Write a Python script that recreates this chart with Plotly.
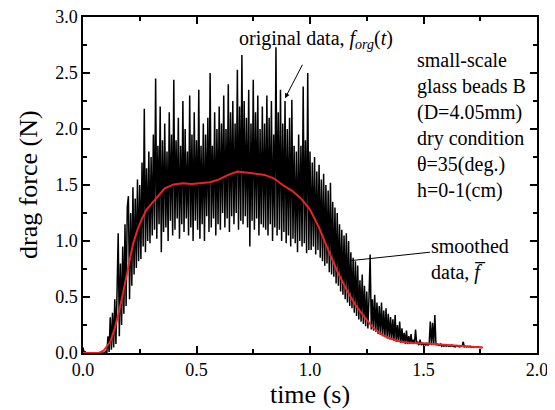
import plotly.graph_objects as go

# ---------------- data ----------------
dt = 0.005  # sampling interval of original signal (s)

f_org = [
    # 0.000 - 0.095
    0.05, 0.0, 0.01, 0.0, 0.0, 0.0, 0.0, 0.0, 0.0, 0.0, 0.0, 0.0, 0.0, 0.0, 0.0, 0.0, 0.0, 0.0, 0.0, 0.0,
    # 0.100 - 0.195
    0.02, 0.00, 0.15, 0.01, 0.32, 0.03, 0.36, 0.05, 0.48, 0.08, 0.55, 1.07, 0.15, 0.80, 0.25, 0.95, 0.35, 1.15, 0.42, 1.30,
    # 0.200 - 0.295
    1.40, 0.48, 1.25, 0.60, 1.48, 0.70, 1.38, 0.76, 1.55, 0.82, 1.50, 0.84, 1.70, 0.95, 2.18, 0.90, 1.65, 1.00, 1.80, 0.98,
    # 0.300 - 0.395
    1.75, 1.05, 1.95, 1.10, 2.45, 1.02, 1.85, 1.15, 2.20, 0.90, 1.90, 1.08, 2.05, 1.12, 1.80, 1.00, 2.15, 1.18, 1.95, 1.05,
    # 0.400 - 0.495
    2.44, 1.10, 1.90, 1.20, 2.10, 1.02, 1.85, 1.15, 2.25, 1.08, 2.00, 1.20, 1.80, 1.05, 2.30, 1.12, 1.95, 1.00, 2.15, 1.18,
    # 0.500 - 0.595
    1.90, 1.10, 2.35, 1.02, 1.85, 1.15, 2.05, 1.00, 1.95, 1.22, 2.10, 1.08, 2.50, 1.12, 1.85, 1.20, 2.15, 1.05, 2.00, 1.15,
    # 0.600 - 0.695
    2.20, 1.10, 2.05, 1.25, 2.30, 1.12, 2.00, 1.20, 2.40, 1.08, 2.15, 1.22, 2.25, 1.15, 2.05, 1.25, 2.53, 1.10, 2.20, 1.18,
    # 0.700 - 0.795
    2.66, 1.15, 2.25, 1.22, 2.10, 1.12, 2.35, 0.95, 2.05, 1.18, 2.44, 1.10, 2.15, 1.20, 2.30, 1.05, 2.00, 1.15, 2.20, 1.12,
    # 0.800 - 0.895
    2.05, 1.10, 2.30, 1.05, 2.10, 1.15, 2.25, 1.00, 1.95, 1.12, 2.73, 1.05, 2.15, 1.10, 2.35, 1.00, 2.05, 1.08, 2.25, 0.98,
    # 0.900 - 0.995
    2.00, 1.05, 2.10, 0.95, 2.26, 1.02, 1.85, 0.98, 1.80, 0.90, 1.95, 1.00, 1.85, 0.95, 2.38, 0.98, 1.90, 0.89, 2.50, 0.92,
    # 1.000 - 1.095
    1.80, 0.92, 1.70, 0.95, 1.75, 0.88, 1.62, 0.92, 1.68, 0.85, 1.55, 0.82, 1.60, 0.78, 1.50, 0.80, 1.45, 0.72, 1.52, 0.70,
    # 1.100 - 1.195
    1.35, 0.68, 1.30, 0.62, 1.25, 0.60, 1.15, 0.55, 1.10, 0.52, 1.05, 0.48, 1.07, 0.45, 1.00, 0.42, 0.90, 0.40, 0.85, 0.36,
    # 1.200 - 1.295
    0.82, 0.33, 0.78, 0.30, 0.65, 0.28, 0.70, 0.26, 0.60, 0.24, 0.55, 0.22, 0.50, 0.88, 0.21, 0.48, 0.20, 0.52, 0.19, 0.45,
    # 1.300 - 1.395
    0.17, 0.42, 0.16, 0.45, 0.15, 0.38, 0.14, 0.40, 0.13, 0.35, 0.12, 0.32, 0.12, 0.30, 0.11, 0.34, 0.10, 0.25, 0.10, 0.28,
    # 1.400 - 1.495
    0.09, 0.22, 0.09, 0.18, 0.08, 0.20, 0.08, 0.15, 0.08, 0.17, 0.08, 0.12, 0.08, 0.21, 0.08, 0.10, 0.07, 0.12, 0.07, 0.09,
    # 1.500 - 1.595
    0.07, 0.08, 0.07, 0.09, 0.07, 0.08, 0.28, 0.07, 0.27, 0.07, 0.34, 0.07, 0.08, 0.07, 0.07, 0.08, 0.06, 0.07, 0.06, 0.07,
    # 1.600 - 1.695
    0.06, 0.07, 0.06, 0.065, 0.06, 0.07, 0.06, 0.06, 0.055, 0.065, 0.06, 0.06, 0.055, 0.06, 0.06, 0.10, 0.055, 0.06, 0.055, 0.06,
    # 1.700 - 1.760
    0.055, 0.06, 0.05, 0.055, 0.05, 0.055, 0.05, 0.05, 0.055, 0.05, 0.05, 0.05, 0.05,
]
t_org = [round(i * dt, 3) for i in range(len(f_org))]

t_smooth = [0.00, 0.04, 0.07, 0.09, 0.10, 0.12, 0.14, 0.16, 0.18, 0.20, 0.22, 0.24, 0.26, 0.28,
            0.30, 0.33, 0.36, 0.40, 0.44, 0.48, 0.52, 0.56, 0.60, 0.64, 0.68, 0.72, 0.76, 0.80,
            0.84, 0.88, 0.92, 0.96, 1.00, 1.04, 1.08, 1.12, 1.16, 1.20, 1.24, 1.28, 1.32, 1.36,
            1.40, 1.45, 1.50, 1.55, 1.60, 1.65, 1.70, 1.76]
f_smooth = [0.00, 0.00, 0.00, 0.02, 0.045, 0.10, 0.22, 0.38, 0.57, 0.78, 0.97, 1.10, 1.20, 1.28,
            1.33, 1.40, 1.47, 1.505, 1.515, 1.51, 1.515, 1.525, 1.55, 1.59, 1.62, 1.61, 1.60, 1.59,
            1.56, 1.50, 1.45, 1.38, 1.28, 1.12, 0.92, 0.73, 0.57, 0.43, 0.32, 0.22, 0.16, 0.125,
            0.10, 0.09, 0.087, 0.08, 0.07, 0.062, 0.056, 0.05]

x_ticks = [0.0, 0.5, 1.0, 1.5, 2.0]
y_ticks = [0.0, 0.5, 1.0, 1.5, 2.0, 2.5, 3.0]

# ---------------- figure ----------------
FONT = "Liberation Serif, Times New Roman, serif"
fig = go.Figure()
fig.add_trace(go.Scatter(x=t_org, y=f_org, mode="lines",
                         line=dict(color="black", width=1.5), hoverinfo="skip"))
fig.add_trace(go.Scatter(x=t_smooth, y=f_smooth, mode="lines",
                         line=dict(color="#ee2222", width=2), hoverinfo="skip"))

axis_common = dict(showline=True, linecolor="black", linewidth=1.5, mirror="ticks",
                   ticks="inside", ticklen=7, tickwidth=1.5, tickcolor="black",
                   showgrid=False, zeroline=False, tickformat=".1f", automargin=False,
                   ticklabeloverflow="allow",
                   tickfont=dict(family=FONT, size=18, color="black"),
                   minor=dict(ticks="inside", ticklen=4, tickwidth=1.5, tickcolor="black",
                              dtick=0.25, showgrid=False))

fig.update_xaxes(range=[0, 2.0], tickvals=x_ticks, ticklabelstandoff=0,
                 title=dict(text="time (s)", font=dict(family=FONT, size=26), standoff=4),
                 **axis_common)
fig.update_yaxes(range=[0, 3.0], tickvals=y_ticks, **axis_common)

# y-axis title placed as a rotated annotation for exact position
fig.add_annotation(x=0, y=0.5, xref="paper", yref="paper", xshift=-55,
                   xanchor="center", yanchor="middle", textangle=-90,
                   text="drag force (N)", showarrow=False,
                   font=dict(family=FONT, size=26, color="black"))

fig.add_annotation(x=0.678, y=2.795, xref="x", yref="y", xanchor="left", yanchor="middle",
                   text="original data, <i>f</i><sub><i>org</i></sub>(<i>t</i>)",
                   showarrow=False, font=dict(family=FONT, size=20, color="black"))
fig.add_annotation(x=0.89, y=2.274, ax=0.97, ay=2.587, xref="x", yref="y", axref="x", ayref="y",
                   text="", showarrow=True, arrowhead=2, arrowsize=1, arrowwidth=1, arrowcolor="black")
fig.add_annotation(x=1.4626, y=2.73, xref="x", yref="y", xanchor="left", yanchor="top", align="left",
                   text="small-scale<br>glass beads B<br>(D=4.05mm)<br>dry condition<br>θ=35(deg.)<br>h=0-1(cm)",
                   showarrow=False, font=dict(family=FONT, size=20, color="black"))
fig.add_annotation(x=1.525, y=1.07, xref="x", yref="y", xanchor="left", yanchor="top", align="left",
                   text="smoothed<br>data, <i>f&#773;</i>",
                   showarrow=False, font=dict(family=FONT, size=20, color="black"))
fig.add_shape(type="line", xref="x", yref="y", x0=1.176, y0=0.824, x1=1.529, y1=0.90,
              line=dict(color="black", width=1))

# page body has an 8px default margin, so the figure is sized to fill 555x410 from (8, 8)
fig.update_layout(width=547, height=402, margin=dict(l=75, r=18, t=9, b=57),
                  plot_bgcolor="white", paper_bgcolor="white", showlegend=False,
                  font=dict(family=FONT, size=18, color="black"))

fig.write_html("out.html")
